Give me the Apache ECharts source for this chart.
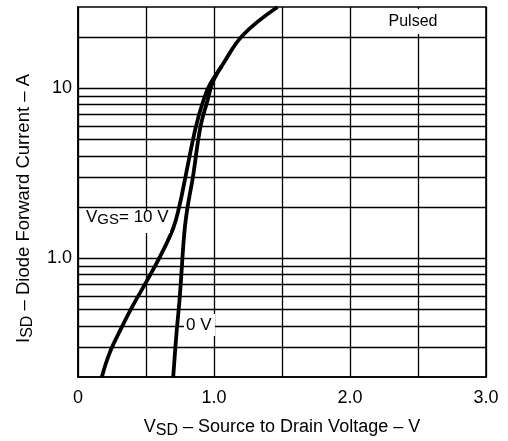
<!DOCTYPE html>
<html>
<head>
<meta charset="utf-8">
<script src="https://cdn.jsdelivr.net/npm/echarts@6/dist/echarts.min.js"></script>
<style>
  html, body { margin: 0; padding: 0; background: #fff; }
  #chart { width: 508px; height: 441px; }
</style>
</head>
<body>
<div id="chart"></div>
<script>
// VGS = 10 V curve (volts, amps)
const vgs10Volt = [0.175, 0.235, 0.32, 0.40, 0.50, 0.60, 0.70, 0.745, 0.79, 0.866, 0.925, 0.97, 1.057, 1.21, 1.467]
const vgs10Amp = [0.2, 0.28, 0.39, 0.52, 0.72, 1.01, 1.5, 2.02, 3.0, 5.9, 8.6, 10.5, 13.5, 20.4, 30]
// VGS = 0 V curve
const vgs0Volt = [0.70, 0.724, 0.745, 0.76, 0.773, 0.787, 0.808, 0.845, 0.90, 0.955, 0.99, 1.057]
const vgs0Amp = [0.2, 0.36, 0.55, 0.80, 1.15, 1.55, 2.05, 3.0, 5.9, 8.6, 10.8, 13.5]
// horizontal grid lines on the log axis
const yGridValues = [0.3, 0.4, 0.5, 0.6, 0.7, 0.8, 0.9, 1, 2, 3, 4, 5, 6, 7, 8, 9, 10, 20]

const FONT = '"Liberation Sans", Arial, sans-serif'

let pairs = (xs, ys) => xs.map((x, i) => [x, ys[i]])

let chart = echarts.init(document.getElementById('chart'))

let curveStyle = {
    type: 'line',
    showSymbol: false,
    smooth: 0.4,
    silent: true,
    lineStyle: { color: '#000', width: 3.8 },
    z: 5
}

let option = {
    animation: false,
    backgroundColor: '#fff',
    textStyle: { fontFamily: FONT, color: '#000' },
    grid: {
        left: 78, right: 22, top: 7, bottom: 64,
        outerBoundsMode: 'none',
        containLabel: false,
        show: true, borderColor: '#000', borderWidth: 1.5
    },
    xAxis: {
        type: 'value',
        min: 0, max: 3, interval: 0.5,
        axisLine: { lineStyle: { color: '#000', width: 1.5 } },
        axisTick: { show: false },
        splitLine: { lineStyle: { color: '#000', width: 1.3 } },
        axisLabel: {
            margin: 12, fontSize: 18, color: '#000', fontFamily: FONT,
            formatter: v => v === 0 ? '0' : (Math.abs(v - Math.round(v)) < 1e-6 ? v.toFixed(1) : '')
        },
        name: '{n|V}{s|SD}{n| – Source to Drain Voltage – V}',
        nameLocation: 'middle',
        nameGap: 38,
        nameTextStyle: {
            rich: {
                n: { fontSize: 18, fontFamily: FONT, color: '#000' },
                s: { fontSize: 16, fontFamily: FONT, color: '#000', padding: [8, 0, 0, 0] }
            }
        }
    },
    yAxis: {
        type: 'log',
        logBase: 10,
        min: 0.2, max: 30,
        axisLine: { show: true, lineStyle: { color: '#000', width: 1.5 } },
        axisTick: { show: false },
        splitLine: { show: false },
        axisLabel: {
            margin: 6, fontSize: 18, color: '#000', fontFamily: FONT,
            showMinLabel: false, showMaxLabel: false,
            formatter: v => Math.abs(v - 1) < 1e-6 ? '1.0' : (Math.abs(v - 10) < 1e-6 ? '10' : '')
        }
    },
    graphic: [
        {
            type: 'text', z: 100,
            left: 14, top: 74,
            rotation: Math.PI / 2,
            style: {
                text: '{n|I}{s|SD}{n| – Diode Forward Current – A}',
                rich: {
                    n: { fontSize: 18.5, fontFamily: FONT, fill: '#000' },
                    s: { fontSize: 16, fontFamily: FONT, fill: '#000', padding: [8, 0, 0, 0] }
                }
            }
        },
        {
            type: 'rect', z: 100,
            shape: { x: 380, y: 9, width: 76, height: 25 },
            style: { fill: '#fff' }
        },
        {
            type: 'text', z: 101,
            x: 413, y: 22,
            style: {
                text: 'Pulsed', fontSize: 16, fontFamily: FONT, fill: '#000',
                align: 'center', verticalAlign: 'middle'
            }
        },
        {
            type: 'rect', z: 100,
            shape: { x: 84, y: 211, width: 86, height: 22 },
            style: { fill: '#fff' }
        },
        {
            type: 'text', z: 101,
            x: 86, y: 217,
            style: {
                text: '{n|V}{s|GS}{n|= 10 V}',
                verticalAlign: 'middle',
                rich: {
                    n: { fontSize: 17, fontFamily: FONT, fill: '#000' },
                    s: { fontSize: 15, fontFamily: FONT, fill: '#000', padding: [6, 0, 0, 0] }
                }
            }
        },
        {
            type: 'rect', z: 100,
            shape: { x: 184, y: 314, width: 31, height: 22 },
            style: { fill: '#fff' }
        },
        {
            type: 'text', z: 101,
            x: 186, y: 325,
            style: {
                text: '0 V', fontSize: 17, fontFamily: FONT, fill: '#000',
                verticalAlign: 'middle'
            }
        }
    ],
    series: [
        Object.assign({}, curveStyle, {
            name: 'VGS = 10 V',
            data: pairs(vgs10Volt, vgs10Amp),
            markLine: {
                silent: true,
                symbol: 'none',
                label: { show: false },
                lineStyle: { color: '#000', width: 1.3, type: 'solid' },
                data: yGridValues.map(v => ({ yAxis: v }))
            }
        }),
        Object.assign({}, curveStyle, {
            name: 'VGS = 0 V',
            data: pairs(vgs0Volt, vgs0Amp)
        })
    ]
}

chart.setOption(option)
</script>
</body>
</html>
